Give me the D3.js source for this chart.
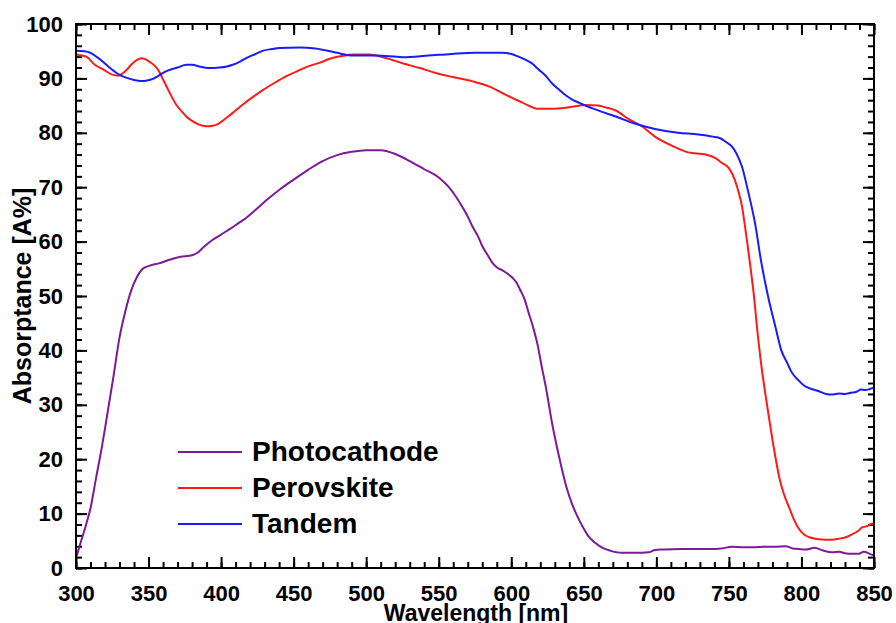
<!DOCTYPE html>
<html>
<head>
<meta charset="utf-8">
<script src="https://cdn.jsdelivr.net/npm/d3@7"></script>
<style>
  html, body { margin: 0; padding: 0; background: #fff; }
  svg { display: block; }
  text { font-family: "Liberation Sans", Arial, sans-serif; font-weight: bold; fill: #000; }
</style>
</head>
<body>
<svg id="chart" width="896" height="623"></svg>
<script>
// ---- Data ----
const photoWl = [300,303,307,310,314,318,321,326,330,334,338,342,346,350,357,365,372,380,384,388,394,400,406,412,417,424,433,440,450,460,470,480,490,500,510,520,530,540,550,557,562,566,570,573,577,580,584,587,590,594,598,601,604,606,609,612,615,618,621,624,628,633,638,642,645,650,653,658,663,668,676,685,695,699,705,717,725,736,745,752,760,766,775,782,789,794,798,803,809,815,821,826,830,835,839,843,847,850];
const photoA  = [1.8,4.5,8,11,16.8,22.5,27.3,35.5,42.4,47.2,51,53.5,55,55.5,56,56.7,57.2,57.5,58,59,60.3,61.3,62.3,63.4,64.3,65.9,68,69.5,71.4,73.2,74.8,75.9,76.5,76.8,76.8,76.1,74.8,73.3,71.8,70,68.2,66.5,64.6,62.9,61,59.2,57.4,56.1,55.3,54.7,54,53.3,52.3,51.2,49.5,46.9,44.3,41.2,37,33,26.8,20.4,14.9,11.7,9.8,7.2,5.9,4.6,3.7,3.2,2.8,2.8,2.9,3.3,3.4,3.5,3.5,3.5,3.6,3.9,3.8,3.8,3.9,3.9,4.0,3.6,3.5,3.4,3.7,3.2,2.9,3.0,2.7,2.6,2.6,3.0,2.6,2.3];

const peroWl = [300,307,313,319,325,329,332,335,338,342,345,348,351,354,357,360,363,366,369,373,376,380,384,390,394,397,400,404,410,415,422,429,437,445,453,461,468,475,483,491,502,514,525,537,548,559,573,585,596,608,619,628,640,651,660,666,672,681,690,699,711,722,734,741,745,750,754,757,759,761,763,765,767,770,772,775,778,781,785,788,792,795,798,802,806,812,821,826,830,835,839,842,844,846,848,850];
const peroA  = [94.4,94.0,92.5,91.6,90.7,90.5,90.9,91.6,92.5,93.4,93.7,93.5,93.0,92.4,91.4,89.8,88.2,86.6,85.2,83.9,83.0,82.2,81.6,81.2,81.3,81.5,82.0,82.8,84.1,85.2,86.6,87.9,89.2,90.4,91.4,92.3,92.9,93.6,94.1,94.4,94.4,93.7,92.8,91.9,91.0,90.3,89.5,88.5,87.0,85.5,84.4,84.4,84.7,85.1,85.0,84.6,84.1,82.5,81.2,79.3,77.6,76.4,76.0,75.3,74.5,73.5,71.4,68.8,66.5,63,59.1,55,50.6,42.6,38,32.2,27,22,16.3,13.5,10.8,8.8,7.3,6.1,5.6,5.3,5.2,5.4,5.6,6.2,6.8,7.5,7.6,7.8,8.1,8.2];

const tandWl = [300,306,310,314,318,321,325,328,331,335,340,345,349,353,357,362,366,370,376,380,385,391,399,404,408,413,417,423,429,435,440,454,465,475,480,491,507,525,543,559,575,594,600,605,610,614,619,624,628,633,638,642,647,651,656,662,672,685,699,715,729,739,744,748,752,755,759,763,766,768,772,777,782,786,790,793,798,802,807,812,817,821,826,830,834,838,841,844,847,850];
const tandA  = [95.1,95.0,94.7,94.0,93.2,92.5,91.6,91.0,90.5,90.1,89.7,89.5,89.6,89.9,90.5,91.3,91.7,92.0,92.5,92.5,92.2,91.9,92.0,92.2,92.5,93.1,93.7,94.4,95.1,95.4,95.6,95.7,95.5,95.0,94.7,94.2,94.2,93.9,94.2,94.5,94.7,94.7,94.5,94.0,93.4,92.8,91.6,90.4,89.1,87.9,86.8,86.1,85.5,85.0,84.5,83.9,83.0,81.7,80.7,80.0,79.7,79.3,79.0,78.3,77.5,76.3,73.8,69.5,66,63.4,56.7,49.9,44.4,40.1,37.8,36.1,34.5,33.5,32.9,32.5,32.0,31.9,32.1,32.0,32.2,32.4,32.8,32.7,32.9,33.2];

const seriesNames = ["Photocathode", "Perovskite", "Tandem"];
const xTicks = [300,350,400,450,500,550,600,650,700,750,800,850];
const yTicks = [0,10,20,30,40,50,60,70,80,90,100];

// ---- Layout ----
const svg = d3.select("#chart");
const L = 76, T = 24, R = 874, B = 568;
const colors = ["#7d1a96", "#ff1a1a", "#1a1aff"];

const x = d3.scaleLinear().domain([300, 850]).range([L, R]);
const y = d3.scaleLinear().domain([0, 100]).range([B, T]);

const xMinor = d3.range(300, 851, 10);
const yMinor = d3.range(0, 101, 2);

function styleAxis(g) {
  g.select(".domain").remove();
  g.selectAll(".tick line").attr("stroke", "#000").attr("stroke-width", 2);
}

// minor ticks
svg.append("g").attr("transform", `translate(0,${B})`)
  .call(d3.axisBottom(x).tickValues(xMinor).tickSize(-6).tickFormat(""))
  .call(styleAxis);
svg.append("g").attr("transform", `translate(0,${T})`)
  .call(d3.axisTop(x).tickValues(xMinor).tickSize(-6).tickFormat(""))
  .call(styleAxis);
svg.append("g").attr("transform", `translate(${L},0)`)
  .call(d3.axisLeft(y).tickValues(yMinor).tickSize(-6).tickFormat(""))
  .call(styleAxis);
svg.append("g").attr("transform", `translate(${R},0)`)
  .call(d3.axisRight(y).tickValues(yMinor).tickSize(-6).tickFormat(""))
  .call(styleAxis);

// major ticks with labels
const gx = svg.append("g").attr("transform", `translate(0,${B})`)
  .call(d3.axisBottom(x).tickValues(xTicks).tickSize(-11).tickPadding(17).tickFormat(d3.format("d")))
  .call(styleAxis);
gx.selectAll("text").style("font-size", "22px").style("font-family", "'Liberation Sans', Arial, sans-serif").style("font-weight", "bold");

const gy = svg.append("g").attr("transform", `translate(${L},0)`)
  .call(d3.axisLeft(y).tickValues(yTicks).tickSize(-11).tickPadding(13).tickFormat(d3.format("d")))
  .call(styleAxis);
gy.selectAll("text").style("font-size", "22px").style("font-family", "'Liberation Sans', Arial, sans-serif").style("font-weight", "bold");

svg.append("g").attr("transform", `translate(0,${T})`)
  .call(d3.axisTop(x).tickValues(xTicks).tickSize(-11).tickFormat(""))
  .call(styleAxis);
svg.append("g").attr("transform", `translate(${R},0)`)
  .call(d3.axisRight(y).tickValues(yTicks).tickSize(-11).tickFormat(""))
  .call(styleAxis);

// lines
const line = d3.line().x(d => x(d[0])).y(d => y(d[1])).curve(d3.curveMonotoneX);
const data = [
  d3.zip(photoWl, photoA),
  d3.zip(peroWl, peroA),
  d3.zip(tandWl, tandA)
];
data.forEach((d, i) => {
  svg.append("path").datum(d)
    .attr("fill", "none")
    .attr("stroke", colors[i])
    .attr("stroke-width", 2)
    .attr("stroke-linejoin", "round")
    .attr("d", line);
});

// frame
svg.append("rect")
  .attr("x", L).attr("y", T).attr("width", R - L).attr("height", B - T)
  .attr("fill", "none").attr("stroke", "#000").attr("stroke-width", 2);

// axis titles
svg.append("text")
  .attr("x", (L + R) / 2 + 1).attr("y", 621)
  .attr("text-anchor", "middle")
  .style("font-size", "23px")
  .text("Wavelength [nm]");

svg.append("text")
  .attr("transform", `translate(31,${(T + B) / 2}) rotate(-90)`)
  .attr("text-anchor", "middle")
  .style("font-size", "25px")
  .text("Absorptance [A%]");

// legend
const legY = [452, 488, 524];
seriesNames.forEach((name, i) => {
  svg.append("line")
    .attr("x1", 178).attr("x2", 242)
    .attr("y1", legY[i]).attr("y2", legY[i])
    .attr("stroke", colors[i]).attr("stroke-width", 2);
  svg.append("text")
    .attr("x", 252).attr("y", legY[i] + 9)
    .style("font-size", "28px")
    .text(name);
});
</script>
</body>
</html>
